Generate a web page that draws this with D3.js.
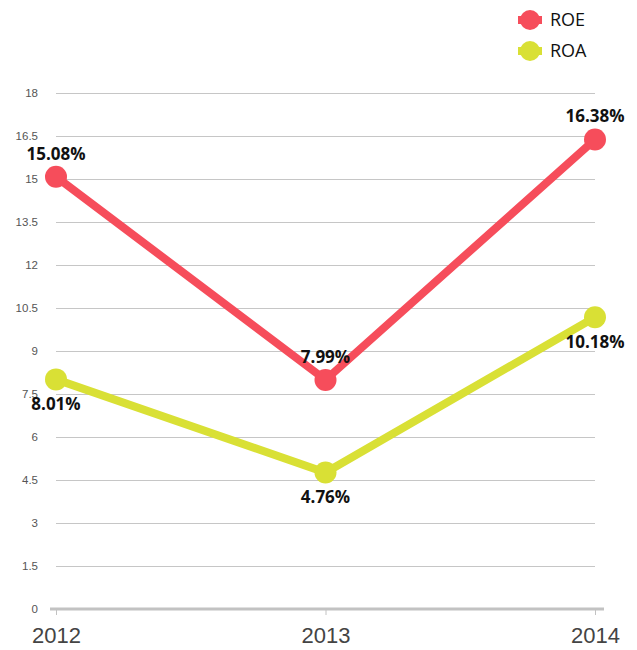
<!DOCTYPE html>
<html>
<head>
<meta charset="utf-8">
<script src="https://cdn.jsdelivr.net/npm/d3@7"></script>
<style>
  body { margin: 0; background: #fff; }
  svg { display: block; font-family: "Open Sans", "Liberation Sans", sans-serif; }
</style>
</head>
<body>
<div id="chart"></div>
<script>
// chart data
const years = ['2012', '2013', '2014'];
const roe = [15.08, 7.99, 16.38];
const roa = [8.01, 4.76, 10.18];
const yTicks = [0, 1.5, 3, 4.5, 6, 7.5, 9, 10.5, 12, 13.5, 15, 16.5, 18];

const width = 637, height = 650;
const colors = { ROE: '#f64d5b', ROA: '#d9e035' };

const svg = d3.select('#chart').append('svg')
  .attr('width', width)
  .attr('height', height);

const x = d3.scalePoint().domain(years).range([56, 595]);
const y = d3.scaleLinear().domain([0, 18]).range([609, 93]);

// gridlines + y labels
const yAxis = svg.append('g')
  .attr('transform', 'translate(56,0)')
  .call(d3.axisLeft(y).tickValues(yTicks).tickSize(-539).tickPadding(18)
    .tickFormat(d => d));
yAxis.select('.domain').remove();
yAxis.selectAll('.tick line').attr('stroke', '#c6c6c6').attr('stroke-width', 1);
yAxis.selectAll('.tick').filter(d => d === 0).select('line').remove();
yAxis.selectAll('.tick text')
  .attr('fill', '#555')
  .attr('font-size', 11.5);

// baseline
svg.append('line')
  .attr('x1', 50).attr('x2', 604)
  .attr('y1', y(0)).attr('y2', y(0))
  .attr('stroke', '#c2c2c2').attr('stroke-width', 3);

const xAxis = svg.append('g')
  .attr('transform', `translate(0,${y(0)})`)
  .call(d3.axisBottom(x).tickSize(6).tickPadding(12).tickSizeOuter(0));
xAxis.select('.domain').remove();
xAxis.selectAll('.tick line').attr('stroke', '#c2c2c2').attr('stroke-width', 1);
xAxis.selectAll('.tick text')
  .attr('fill', '#444')
  .attr('font-size', 22);

// series
const series = [
  { name: 'ROE', values: roe, labelDy: -23 },
  { name: 'ROA', values: roa, labelDy: 25 }
];

const line = d3.line()
  .x((d, i) => x(years[i]))
  .y(d => y(d));

series.forEach(s => {
  const g = svg.append('g');
  g.append('path')
    .datum(s.values)
    .attr('d', line)
    .attr('fill', 'none')
    .attr('stroke', colors[s.name])
    .attr('stroke-width', 8);

  g.selectAll('circle')
    .data(s.values)
    .enter().append('circle')
    .attr('cx', (d, i) => x(years[i]))
    .attr('cy', d => y(d))
    .attr('r', 11)
    .attr('fill', colors[s.name]);
});

// value labels drawn on top
series.forEach(s => {
  svg.append('g').selectAll('text')
    .data(s.values)
    .enter().append('text')
    .attr('x', (d, i) => x(years[i]))
    .attr('y', d => y(d) + s.labelDy)
    .attr('dy', '0.35em')
    .attr('text-anchor', 'middle')
    .attr('font-size', 17)
    .attr('font-weight', 700)
    .attr('fill', '#111')
    .text(d => d.toFixed(2) + '%');
});

// legend
const legend = svg.append('g').attr('transform', 'translate(530,20)');
series.forEach((s, i) => {
  const item = legend.append('g').attr('transform', `translate(0,${i * 31})`);
  item.append('line')
    .attr('x1', -12).attr('x2', 12)
    .attr('stroke', colors[s.name]).attr('stroke-width', 8);
  item.append('circle').attr('r', 10).attr('fill', colors[s.name]);
  item.append('text')
    .attr('x', 20)
    .attr('dy', '0.35em')
    .attr('font-size', 18)
    .attr('fill', '#111')
    .text(s.name);
});
</script>
</body>
</html>
